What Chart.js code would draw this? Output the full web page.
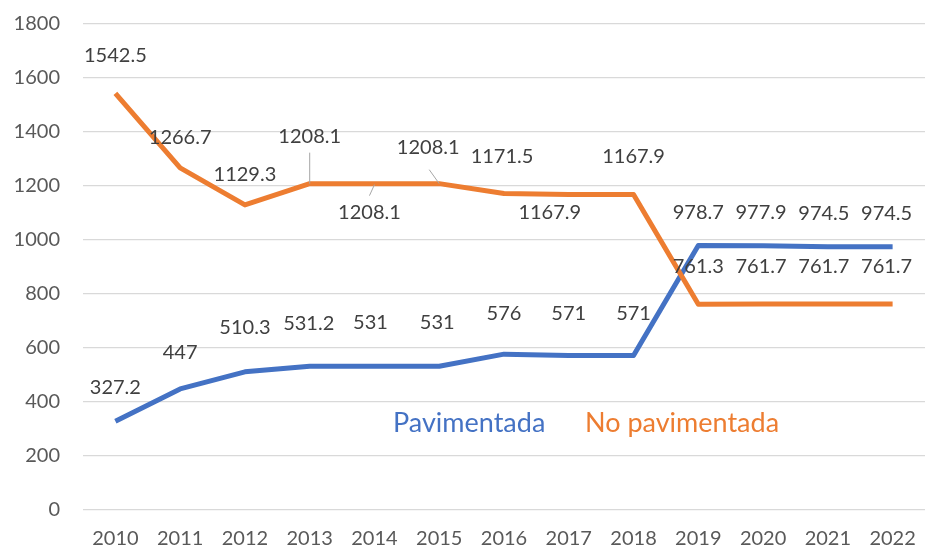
<!DOCTYPE html>
<html>
<head>
<meta charset="utf-8">
<script src="https://cdn.jsdelivr.net/npm/chart.js@4.4.1/dist/chart.umd.min.js"></script>
<style>
  html, body { margin: 0; padding: 0; background: #fff; }
  #wrap { width: 926px; height: 549px; }
</style>
</head>
<body>
<div id="wrap"><canvas id="chart" width="926" height="549"></canvas></div>
<script>
// data
const years = ['2010', '2011', '2012', '2013', '2014', '2015', '2016', '2017', '2018', '2019', '2020', '2021', '2022'];
const pavimentada = [327.2, 447, 510.3, 531.2, 531, 531, 576, 571, 571, 978.7, 977.9, 974.5, 974.5];
const noPavimentada = [1542.5, 1266.7, 1129.3, 1208.1, 1208.1, 1208.1, 1171.5, 1167.9, 1167.9, 761.3, 761.7, 761.7, 761.7];
const yTicks = [0, 200, 400, 600, 800, 1000, 1200, 1400, 1600, 1800];

const BLUE = '#4472C4';
const ORANGE = '#ED7D31';
const FONT = 'Lato, "Noto Sans", sans-serif';

// label placement per point: [dx, dy] from the point, optional leader segment
const labelPlacement = {
  0: [[0, -34], [0, -36], [0, -44], [-1, -43], [-4, -44], [-2, -44], [0, -41], [0, -42], [0, -42],
      [0, -33], [-2, -33], [-4, -33], [-6, -33]],
  1: [[0, -38], [0, -30], [0, -30], [0, -47, [0, -31, 0, 0]], [-5, 29, [-5, 12, 0, 1]],
      [-11, -36, [-10, -14, 0, 0]], [-2, -37], [-19, 18], [0, -38],
      [0, -38], [-2, -38], [-4, -38], [-6, -38]]
};

const dataLabels = {
  id: 'dataLabels',
  afterDatasetsDraw(chart) {
    const ctx = chart.ctx;
    ctx.save();
    ctx.font = '20px ' + FONT;
    ctx.textAlign = 'center';
    ctx.textBaseline = 'middle';
    chart.data.datasets.forEach((ds, di) => {
      const meta = chart.getDatasetMeta(di);
      meta.data.forEach((pt, i) => {
        const p = labelPlacement[di][i];
        if (p[2]) {
          const l = p[2];
          ctx.strokeStyle = '#A6A6A6';
          ctx.lineWidth = 1;
          ctx.beginPath();
          ctx.moveTo(pt.x + l[0], pt.y + l[1]);
          ctx.lineTo(pt.x + l[2], pt.y + l[3]);
          ctx.stroke();
        }
        ctx.fillStyle = '#404040';
        ctx.fillText(String(ds.data[i]), pt.x + p[0], pt.y + p[1]);
      });
    });
    ctx.restore();
  }
};

// series names written inside the plot, in series colour
const inlineLegend = {
  id: 'inlineLegend',
  afterDraw(chart) {
    const ctx = chart.ctx;
    const a = chart.chartArea;
    ctx.save();
    ctx.font = '27px ' + FONT;
    ctx.textAlign = 'left';
    ctx.textBaseline = 'middle';
    const y = a.top + (a.bottom - a.top) * 0.822;
    ctx.fillStyle = chart.data.datasets[0].borderColor;
    ctx.fillText(chart.data.datasets[0].label, a.left + 310, y);
    ctx.fillStyle = chart.data.datasets[1].borderColor;
    ctx.fillText(chart.data.datasets[1].label, a.left + 502, y);
    ctx.restore();
  }
};

new Chart(document.getElementById('chart'), {
  type: 'line',
  data: {
    labels: years,
    datasets: [
      {
        label: 'Pavimentada',
        data: pavimentada,
        borderColor: BLUE,
        backgroundColor: BLUE,
        borderWidth: 5,
        pointRadius: 0,
        tension: 0,
        borderJoinStyle: 'round',
        order: 1
      },
      {
        label: 'No pavimentada',
        data: noPavimentada,
        borderColor: ORANGE,
        backgroundColor: ORANGE,
        borderWidth: 5,
        pointRadius: 0,
        tension: 0,
        borderJoinStyle: 'round',
        order: 0
      }
    ]
  },
  options: {
    responsive: false,
    animation: false,
    layout: { padding: { top: 24, right: 1, left: 0, bottom: 0 } },
    plugins: {
      legend: { display: false },
      tooltip: { enabled: false }
    },
    scales: {
      x: {
        offset: true,
        grid: { display: false, drawTicks: false },
        border: { display: false },
        ticks: { color: '#595959', font: { family: FONT, size: 20 }, padding: 17, maxRotation: 0 },
        afterFit(scale) {
          scale.height = 39.5;
          scale.paddingLeft = 0;
          scale.paddingRight = 0;
        }
      },
      y: {
        min: 0,
        max: 1800,
        afterBuildTicks(scale) { scale.ticks = yTicks.map(v => ({ value: v })); },
        grid: { color: '#D9D9D9', lineWidth: 1.3, drawTicks: false },
        border: { display: false },
        ticks: {
          color: '#595959',
          font: { family: FONT, size: 20 },
          padding: 23,
          callback: (v) => String(v)
        },
        afterFit(scale) {
          scale.width = 83;
          scale.paddingTop = 0;
          scale.paddingBottom = 0;
        }
      }
    }
  },
  plugins: [dataLabels, inlineLegend]
});
</script>
</body>
</html>
